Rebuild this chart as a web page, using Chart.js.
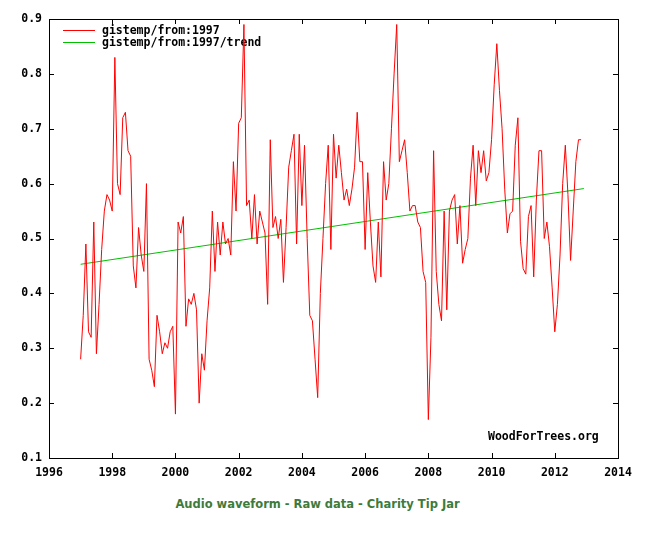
<!DOCTYPE html>
<html>
<head>
<meta charset="utf-8">
<script src="https://cdn.jsdelivr.net/npm/chart.js@4.4.1/dist/chart.umd.min.js"></script>
<style>
    html, body { margin: 0; padding: 0; background: #fff; }
    #wrap { position: relative; width: 650px; height: 533px; }
    #chart { display: block; }
    #caption {
        position: absolute; left: 0; top: 497px; width: 635px;
        text-align: center; line-height: 13px;
        font: bold 11.5px "DejaVu Sans", Verdana, sans-serif; color: #3d7b3d;
    }
</style>
</head>
<body>
<div id="wrap">
    <canvas id="chart" width="650" height="480"></canvas>
    <div id="caption">Audio waveform - Raw data - Charity Tip Jar</div>
</div>
<script>
// monthly series, first value = Jan 1997
const startYear = 1997;
const gistemp = [
    0.28, 0.36, 0.49, 0.33, 0.32, 0.53, 0.29, 0.38, 0.48, 0.55, 0.58, 0.57,
    0.55, 0.83, 0.60, 0.58, 0.72, 0.73, 0.66, 0.65, 0.45, 0.41, 0.52, 0.47,
    0.44, 0.60, 0.28, 0.26, 0.23, 0.36, 0.33, 0.29, 0.31, 0.30, 0.33, 0.34,
    0.18, 0.53, 0.51, 0.54, 0.34, 0.39, 0.38, 0.40, 0.37, 0.20, 0.29, 0.26,
    0.35, 0.41, 0.55, 0.44, 0.53, 0.47, 0.53, 0.49, 0.50, 0.47, 0.64, 0.55,
    0.71, 0.72, 0.89, 0.56, 0.57, 0.50, 0.58, 0.49, 0.55, 0.53, 0.51, 0.38,
    0.68, 0.52, 0.54, 0.50, 0.535, 0.42, 0.52, 0.63, 0.66, 0.69, 0.49, 0.69,
    0.56, 0.67, 0.50, 0.36, 0.35, 0.28, 0.21, 0.40, 0.50, 0.60, 0.67, 0.48,
    0.69, 0.61, 0.67, 0.62, 0.57, 0.59, 0.56, 0.59, 0.63, 0.73, 0.64, 0.64,
    0.48, 0.62, 0.53, 0.45, 0.42, 0.53, 0.43, 0.64, 0.57, 0.60, 0.70, 0.80,
    0.89, 0.64, 0.66, 0.68, 0.62, 0.55, 0.56, 0.56, 0.53, 0.52, 0.44, 0.42,
    0.17, 0.32, 0.66, 0.44, 0.38, 0.35, 0.55, 0.37, 0.55, 0.57, 0.58, 0.49,
    0.56, 0.455, 0.48, 0.50, 0.61, 0.67, 0.56, 0.66, 0.62, 0.66, 0.605, 0.62,
    0.68, 0.78, 0.855, 0.77, 0.70, 0.59, 0.51, 0.545, 0.55, 0.67, 0.72, 0.495,
    0.445, 0.435, 0.54, 0.56, 0.43, 0.57, 0.66, 0.66, 0.50, 0.53, 0.485, 0.41,
    0.33, 0.38, 0.47, 0.60, 0.67, 0.58, 0.46, 0.55, 0.64, 0.68, 0.68
];

const trendYears = [1997, 2012.92];
const trendValues = [0.453, 0.591];

const xTicks = [1996, 1998, 2000, 2002, 2004, 2006, 2008, 2010, 2012, 2014];
const yTicks = [0.1, 0.2, 0.3, 0.4, 0.5, 0.6, 0.7, 0.8, 0.9];

const seriesNames = ["gistemp/from:1997", "gistemp/from:1997/trend"];
const seriesColors = ["#ff0000", "#00c000"];

const MONO = "bold 11.5px 'DejaVu Sans Mono', 'Liberation Mono', monospace";

const gnuplotFrame = {
    id: "gnuplotFrame",
    beforeDatasetsDraw(chart) {
        const ctx = chart.ctx;
        const a = chart.chartArea;
        ctx.save();
        ctx.font = MONO;
        ctx.textBaseline = "middle";
        ctx.fillStyle = "#000";
        seriesNames.forEach((name, i) => {
            const y = a.top + 11.5 + i * 12;
            ctx.strokeStyle = seriesColors[i];
            ctx.lineWidth = 1;
            ctx.beginPath();
            ctx.moveTo(63, y);
            ctx.lineTo(95, y);
            ctx.stroke();
            ctx.fillText(name, 102, y + 0.5);
        });
        // watermark
        ctx.fillText("WoodForTrees.org", 488, 437);
        ctx.restore();
    },
    afterDatasetsDraw(chart) {
        const ctx = chart.ctx;
        const a = chart.chartArea;
        const xs = chart.scales.x;
        const ys = chart.scales.y;
        const len = 5;
        ctx.save();
        ctx.strokeStyle = "#000";
        ctx.lineWidth = 1;
        ctx.beginPath();
        xTicks.forEach((v) => {
            const px = Math.round(xs.getPixelForValue(v)) + 0.5;
            ctx.moveTo(px, a.bottom);
            ctx.lineTo(px, a.bottom - len);
            ctx.moveTo(px, a.top);
            ctx.lineTo(px, a.top + len);
        });
        yTicks.forEach((v) => {
            const py = Math.round(ys.getPixelForValue(v)) + 0.5;
            ctx.moveTo(a.left, py);
            ctx.lineTo(a.left + len, py);
            ctx.moveTo(a.right, py);
            ctx.lineTo(a.right - len, py);
        });
        ctx.stroke();
        ctx.strokeRect(Math.round(a.left) + 0.5, Math.round(a.top) + 0.5,
            Math.round(a.right - a.left), Math.round(a.bottom - a.top));
        ctx.restore();
    },
};

const tickFont = { family: "'DejaVu Sans Mono', 'Liberation Mono', monospace", size: 11.5, weight: "bold" };

new Chart(document.getElementById("chart"), {
    type: "line",
    data: {
        datasets: [
            {
                label: seriesNames[0],
                data: gistemp.map((v, i) => ({ x: startYear + i / 12, y: v })),
                borderColor: seriesColors[0],
                borderWidth: 1,
                pointRadius: 0,
                tension: 0,
            },
            {
                label: seriesNames[1],
                data: trendYears.map((yr, i) => ({ x: yr, y: trendValues[i] })),
                borderColor: seriesColors[1],
                borderWidth: 1,
                pointRadius: 0,
                tension: 0,
            },
        ],
    },
    options: {
        responsive: false,
        animation: false,
        layout: { padding: { left: 0, top: 19, right: 32, bottom: 2 } },
        plugins: { legend: { display: false }, tooltip: { enabled: false } },
        scales: {
            x: {
                type: "linear",
                min: 1996,
                max: 2014,
                afterFit: (s) => { s.height = 20; },
                afterBuildTicks: (s) => { s.ticks = xTicks.map((v) => ({ value: v })); },
                grid: { display: false, drawTicks: false },
                border: { display: false },
                ticks: { padding: 8, color: "#000", font: tickFont, maxRotation: 0, autoSkip: false,
                    callback: (v) => String(v) },
            },
            y: {
                min: 0.1,
                max: 0.9,
                afterFit: (s) => { s.width = 49; },
                afterBuildTicks: (s) => { s.ticks = yTicks.map((v) => ({ value: v })); },
                grid: { display: false, drawTicks: false },
                border: { display: false },
                ticks: { padding: 7, color: "#000", font: tickFont,
                    callback: (v) => v.toFixed(1) },
            },
        },
    },
    plugins: [gnuplotFrame],
});
</script>
</body>
</html>
